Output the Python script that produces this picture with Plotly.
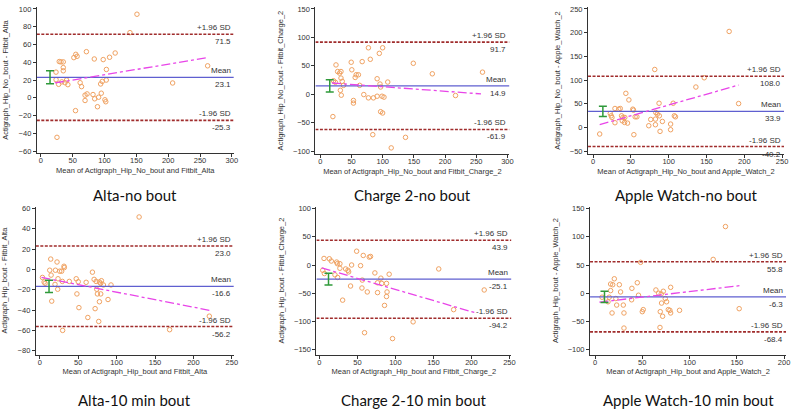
import plotly.graph_objects as go

W, H = 800, 414

# ---------------- data ----------------
titles = ["Alta-no bout", "Charge 2-no bout", "Apple Watch-no bout",
          "Alta-10 min bout", "Charge 2-10 min bout", "Apple Watch-10 min bout"]
x_titles = ["Mean of Actigraph_Hip_No_bout and Fitbit_Alta",
            "Mean of Actigraph_Hip_No_bout and Fitbit_Charge_2",
            "Mean of Actigraph_Hip_No_bout and Apple_Watch_2",
            "Mean of Actigraph_Hip_bout and Fitbit_Alta",
            "Mean of Actigraph_Hip_bout and Fitbit_Charge_2",
            "Mean of Actigraph_Hip_bout and Apple_Watch_2"]
y_titles = ["Actigraph_Hip_No_bout - Fitbit_Alta",
            "Actigraph_Hip_No_bout - Fitbit_Charge_2",
            "Actigraph_Hip_No_bout - Apple_Watch_2",
            "Actigraph_Hip_bout - Fitbit_Alta",
            "Actigraph_Hip_bout - Fitbit_Charge_2",
            "Actigraph_Hip_bout - Apple_Watch_2"]

mean_diff = [23.1, 14.9, 33.9, -16.6, -25.1, -6.3]
upper_loa = [71.5, 91.7, 108.0, 23.0, 43.9, 55.8]
lower_loa = [-25.3, -61.9, -40.2, -56.2, -94.2, -68.4]
ci_x = [14.5, 15, 13, 12, 12, 10]
ci_half = [7.3, 10.7, 11.0, 6.0, 10.5, 10.0]
reg_x = [[22, 262], [18.6, 257.6], [8.8, 192.5], [2.2, 220.7], [3, 206], [4.6, 153]]
reg_y = [[16.7, 45.2], [19.8, 0.7], [5.8, 89.5], [-7.9, -40.2], [-5.2, -84.9], [-15.7, 13.4]]

alta_nb_x = [151, 140, 71.6, 116.8, 55, 57, 51.9, 108, 84, 98, 31.7, 35.3, 29, 35.3, 35.3,
             103, 23.9, 262, 207, 40.5, 42.5, 28, 61.8, 64, 96.5, 102.8, 94, 72.7, 69.5,
             82, 95, 69.5, 84.6, 90.8, 100.7, 102, 89, 54.5, 25.4, 24, 33, 38]
alta_nb_y = [94, 73.3, 51.9, 50.4, 48.9, 46.7, 45.2, 45.6, 43.7, 43, 40.4, 40.4, 40.8, 34, 30.4,
             31.9, 28.9, 36, 16.7, 20, 14.8, 15.2, 17, 12.6, 18.5, 20, 15.6, 4.4, 3,
             3.7, 5.2, -3, -1.1, 0.7, -2.2, -4.4, -10, -14.4, -44.4, 20.4, 18, 17]

ch_nb_x = [25, 77, 99.8, 94.5, 80, 67, 49.4, 50.4, 149, 179.5, 260, 27.6, 33, 30.8, 57.4,
           61, 55.8, 33, 35, 21, 24, 37, 63, 91, 108, 95.6, 96.6, 32, 33.5, 69.6, 77, 85,
           91, 98.8, 102, 53, 53, 216.7, 20, 96.6, 99.8, 84, 136.5, 113.6]
ch_nb_y = [51.6, 81.7, 81.7, 71.9, 61.5, 57.4, 56.3, 43, 54.5, 36, 38.9, 40, 40, 37.2, 34.3,
           34.3, 29.6, 28.5, 22.7, 23.8, 21, 15.7, 15.7, 27.3, 21.5, 18, 12.8, 7, -1.6, -0.5,
           -6.3, -6.3, -3.4, -3.4, -5, -10.9, -15.5, -2.2, -39.2, -30.6, -32.9, -71, -75.7, -94.2]

aw_nb_x = [180, 81.6, 147, 136, 43.4, 47.4, 192.5, 87.3, 106, 29, 34, 36, 52.6, 53.5, 22.8,
           24, 25, 37.7, 39.5, 42, 55.7, 58, 83, 85, 87.7, 107.5, 109, 38.6, 41.7, 29, 45.6,
           76.3, 82.5, 91.7, 73.7, 82.5, 102.6, 102.6, 88.6, 8.8, 54]
aw_nb_y = [202.5, 122.3, 104.8, 85.3, 72, 58.1, 50.4, 51.1, 51.1, 40, 38.6, 40, 38.6, 36.5, 29.5,
           24.6, 21.1, 24.6, 21.1, 21.1, 22.5, 22.5, 31.6, 28.1, 24.6, 24.6, 22.5, 14.1, 10.6, 10, 9.2,
           16.9, 17.6, 12.7, 3.7, 5.8, 7.2, -4.7, -8.2, -13.8, -15.2]

alta_b_x = [129.3, 3.4, 5.6, 6.9, 14.2, 12.9, 14.7, 20.3, 22.4, 25.9, 28.4, 31.5, 31.9, 23.7,
            19.8, 29.3, 23.3, 15.5, 38.4, 47.4, 50, 48.3, 60.3, 68.5, 70.7, 73.3, 77.6, 80.2,
            79.3, 82.8, 92.7, 74.1, 75, 79.3, 88.8, 77.6, 72, 50.9, 62.5, 76.7, 29.7, 169, 220.7]
alta_b_y = [51.6, -7.9, -12.4, -13.7, 10.2, -0.8, -5.6, -0.8, 7.3, -1.75, -1.75, 3.1, 1.8, -9.2,
            -14.7, -11.8, -19.5, -31.2, -11.8, -9.2, -12.1, -24.1, -12.7, -2.7, -9.8, -11.8, -12.4, -11.1,
            -13.7, -15.3, -15.3, -19.5, -24.1, -24.1, -29.6, -31.8, -38.6, -37.6, -47.3, -51.2, -60, -59.3, -46]

ch_b_x = [49, 57.7, 65.6, 67.3, 6.1, 13.1, 15.7, 22.7, 23.6, 27, 42.4, 54.2, 27, 4.4, 6.6,
          34.5, 37.6, 38.5, 20.5, 24, 73, 91.8, 157, 56.4, 80.9, 76.5, 82, 88.3, 41, 56, 63,
          76.5, 89, 88.3, 85.7, 30.6, 176.6, 216.8, 123.3, 59.4, 96.2]
ch_b_y = [24.4, 16.9, 14, 15.1, 11.6, 11, 7, 5.2, 2.3, 2.3, 0, -1.2, -5.8, -9.3, -15.1,
          -7, -9.3, -12.2, -17.4, -22.1, -14, -16.3, -7, -26.7, -23.3, -31.4, -32.6, -32.6, -37.2, -40.7, -47.7,
          -48.8, -47.7, -55.8, -71.5, -62.2, -79, -44.2, -100.6, -119.8, -130.2]

aw_b_x = [138, 125, 48.2, 20.4, 44.7, 16.5, 18.7, 25.7, 80, 39, 64.4, 72.2, 16.5, 27, 67.3,
          70, 46, 7.4, 15, 22, 74.3, 38.7, 75.7, 13.7, 70.4, 22.9, 29.9, 77.5, 79.2, 89.4,
          51, 50, 69, 80, 18, 30.6, 71.5, 152.5, 30.6, 68.7]
aw_b_y = [118, 59.9, 54.7, 25.6, 18.6, 16.3, 15.1, 15.1, 10.5, 8.7, 5.8, 3.5, 4.7, 2.3, 0,
          -1.2, -3.5, -7, -7, -9.3, -9.3, -11.6, -15.1, -15.1, -17.4, -20.9, -20.9, -29, -30.2, -30.2,
          -29, -32.6, -32.6, -34.9, -34.9, -34.9, -40.7, -27.3, -61.6, -60.5]

points_x = [alta_nb_x, ch_nb_x, aw_nb_x, alta_b_x, ch_b_x, aw_b_x]
points_y = [alta_nb_y, ch_nb_y, aw_nb_y, alta_b_y, ch_b_y, aw_b_y]

y_tick_min = [-60, -100, -50, -80, -150, -100]
y_dtick = [20, 50, 50, 20, 50, 50]

# ---------------- layout geometry (pixels) ----------------
px_x = [(37, 235), (317, 512), (591, 788), (36, 235), (318, 514), (593, 790)]
px_y = [(5, 153), (5, 154), (5, 154), (207, 357), (207, 357), (207, 357)]
x_ranges = [[-6.25, 303.1], [-8.0, 303.2], [-6.6, 252.6], [-5.2, 252.6], [-3.9, 252.6], [-5.3, 202.1]]
y_ranges = [[-62.2, 102.2], [-105.2, 153.5], [-56.25, 254.2], [-83.9, 61.9], [-158.7, 103.5], [-108.7, 153.5]]
title_y_px = [195, 195, 195, 403, 403, 403]

AX_FONT = dict(family="Liberation Sans, Arial, sans-serif", size=7.5, color="#333333")
LBL_FONT = dict(family="Liberation Sans, Arial, sans-serif", size=8, color="#333333")
TITLE_FONT = dict(family="Lato, Carlito, Calibri, sans-serif", size=15, color="#111111")

MARKER_COLOR = "#F0A262"
MEAN_COLOR = "#5F5FD0"
LOA_COLOR = "#A02C2C"
REG_COLOR = "#E845E8"
CI_COLOR = "#2F9A3A"

fig = go.Figure()
annotations = []
layout_axes = {}

for i in range(6):
    n = "" if i == 0 else str(i + 1)
    xa, ya = "x" + n, "y" + n
    xr = x_ranges[i]

    fig.add_trace(go.Scatter(x=points_x[i], y=points_y[i], mode="markers", xaxis=xa, yaxis=ya,
                             marker=dict(symbol="circle-open", size=4.5, color=MARKER_COLOR,
                                         line=dict(width=1, color=MARKER_COLOR)),
                             hoverinfo="x+y"))
    for v in (upper_loa[i], lower_loa[i]):
        fig.add_trace(go.Scatter(x=[xr[0], xr[1]], y=[v, v], mode="lines", xaxis=xa, yaxis=ya,
                                 line=dict(color=LOA_COLOR, width=1.6, dash="3px,1.5px"),
                                 hoverinfo="skip"))
    fig.add_trace(go.Scatter(x=[xr[0], xr[1]], y=[mean_diff[i], mean_diff[i]], mode="lines",
                             xaxis=xa, yaxis=ya, line=dict(color=MEAN_COLOR, width=1.3),
                             hoverinfo="skip"))
    fig.add_trace(go.Scatter(x=reg_x[i], y=reg_y[i], mode="lines", xaxis=xa, yaxis=ya,
                             line=dict(color=REG_COLOR, width=1.3, dash="dashdot"),
                             hoverinfo="skip"))
    fig.add_trace(go.Scatter(x=[ci_x[i]], y=[mean_diff[i]], mode="markers", xaxis=xa, yaxis=ya,
                             marker=dict(size=1, color="rgba(0,0,0,0)"),
                             error_y=dict(type="constant", value=ci_half[i], color=CI_COLOR,
                                          thickness=1.5, width=4),
                             hoverinfo="skip"))

    x0, x1 = px_x[i]
    yt, yb = px_y[i]
    layout_axes["xaxis" + n] = dict(
        domain=[x0 / W, x1 / W], range=xr, anchor=ya, tick0=0, dtick=50,
        showline=True, linecolor="#333333", linewidth=1, ticks="outside", ticklen=3,
        tickcolor="#333333", tickfont=AX_FONT, showgrid=False, zeroline=False,
        ticklabelstandoff=-3,
        title=dict(text=x_titles[i], font=AX_FONT, standoff=3))
    layout_axes["yaxis" + n] = dict(
        domain=[1 - yb / H, 1 - yt / H], range=y_ranges[i], anchor=xa,
        tick0=y_tick_min[i], dtick=y_dtick[i],
        showline=True, linecolor="#333333", linewidth=1, ticks="outside", ticklen=3,
        tickcolor="#333333", tickfont=AX_FONT, showgrid=False, zeroline=False,
        title=dict(text=y_titles[i], font=AX_FONT, standoff=8))

    for lab, val in (("+1.96 SD", upper_loa[i]), ("Mean", mean_diff[i]), ("-1.96 SD", lower_loa[i])):
        annotations.append(dict(x=0.995, xref=xa + " domain", y=val, yref=ya, text=lab,
                                showarrow=False, xanchor="right", yanchor="bottom", yshift=0,
                                font=LBL_FONT))
        annotations.append(dict(x=0.995, xref=xa + " domain", y=val, yref=ya, text=f"{val:.1f}",
                                showarrow=False, xanchor="right", yanchor="top", yshift=-1,
                                font=LBL_FONT))
    annotations.append(dict(x=(x0 + x1) / 2 / W, xref="paper", y=1 - title_y_px[i] / H, yref="paper",
                            text=titles[i], showarrow=False, xanchor="center", yanchor="middle",
                            font=TITLE_FONT))

fig.update_layout(width=W, height=H, margin=dict(l=0, r=0, t=0, b=0),
                  paper_bgcolor="white", plot_bgcolor="white", showlegend=False,
                  annotations=annotations, **layout_axes)

fig.write_html("out.html", config={"displayModeBar": False},
               post_script="document.body.style.margin='0';")
